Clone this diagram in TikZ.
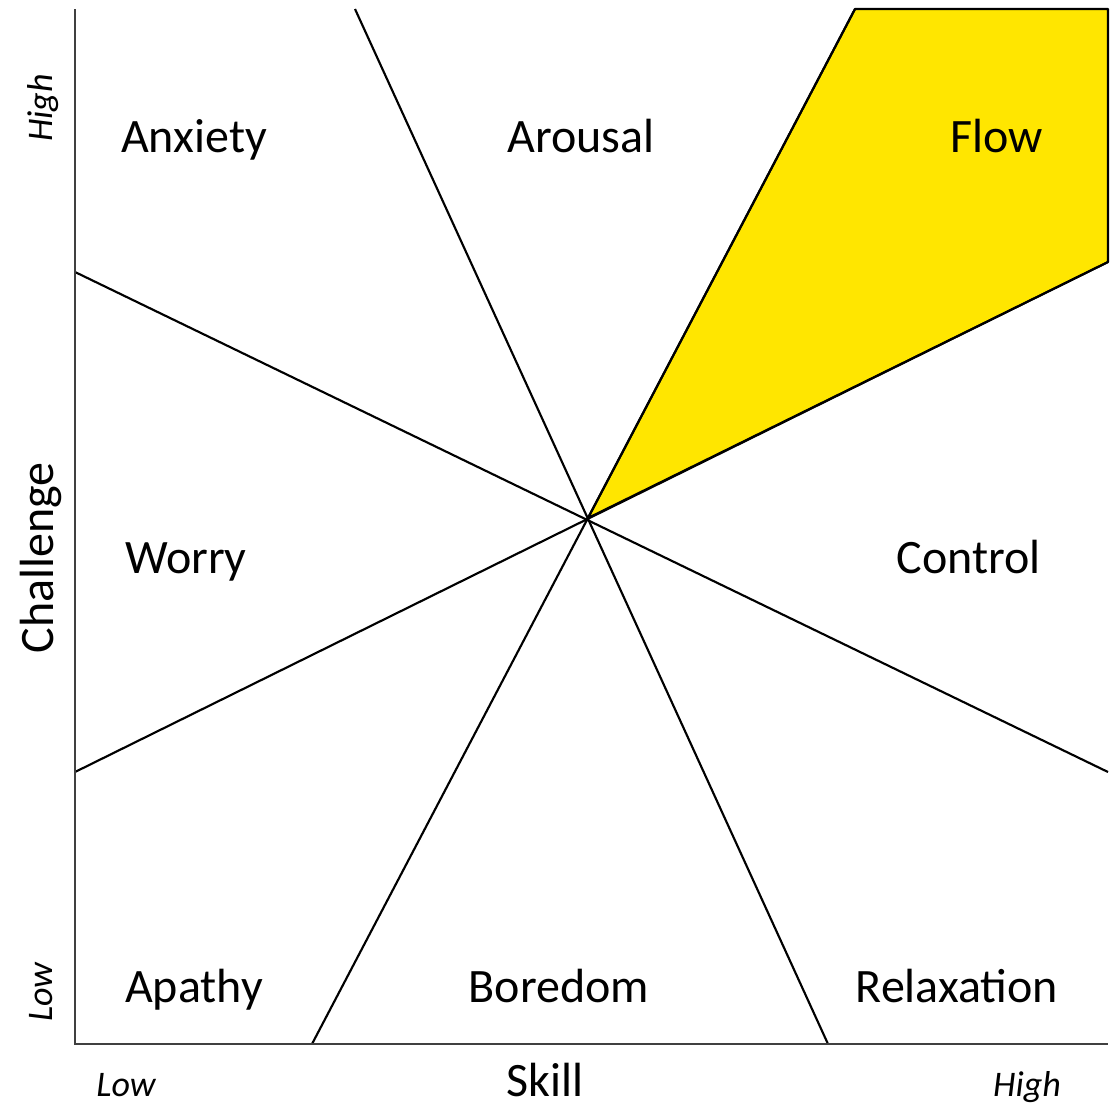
\documentclass[tikz,border=0pt]{standalone}
\usepackage{fontspec}
\setmainfont{Carlito}
\definecolor{flowyellow}{RGB}{255,230,0}

\begin{document}
\begin{tikzpicture}[x=0.75pt,y=-0.75pt,
    region/.style={font=\fontsize{36}{43}\selectfont, anchor=base, inner sep=0pt},
    level/.style={font=\fontsize{27}{32}\selectfont\itshape, anchor=base, inner sep=0pt},
    axis/.style={draw=black!75, line width=2.2pt},
    divider/.style={draw=black, line width=1.6pt},
    ]
\useasboundingbox (0,0) rectangle (1114,1104);

% corners of the frame and the centre
\coordinate (origin) at (75,1044);
\coordinate (top)    at (75,9);
\coordinate (right)  at (1108,1044);
\coordinate (c)      at (588,518);

% ends of the dividers
\coordinate (n1) at (355,9);    \coordinate (s1) at (828,1044);
\coordinate (n2) at (855,9);    \coordinate (s2) at (312,1044);
\coordinate (w1) at (75,272);   \coordinate (e1) at (1108,772);
\coordinate (w2) at (75,772);   \coordinate (e2) at (1108,262);
\coordinate (ne) at (1108,9);

% flow channel
\filldraw[fill=flowyellow, divider, line join=round] (n2) -- (ne) -- (e2) -- (c) -- cycle;

\draw[divider] (n1) -- (s1);
\draw[divider] (n2) -- (s2);
\draw[divider] (w1) -- (e1);
\draw[divider] (w2) -- (e2);

\draw[axis] (top) -- (origin) -- (right);

% regions
\node[region] (anxiety)    at (194,152)  {Anxiety};
\node[region] (arousal)    at (581,152)  {Arousal};
\node[region] (flow)       at (997,152)  {Flow};
\node[region] (worry)      at (186,573)  {Worry};
\node[region] (control)    at (969,573)  {Control};
\node[region] (apathy)     at (194,1002) {Apathy};
\node[region] (boredom)    at (559,1002) {Boredom};
\node[region] (relaxation) at (957,1002) {Relaxation};

% axes labels
\node[region, rotate=90] (challenge) at (53,558)  {Challenge};
\node[region]            (skill)     at (545,1096) {Skill};
\node[level, rotate=90]  (chigh)     at (52,108)   {High};
\node[level, rotate=90]  (clow)      at (52,992)   {Low};
\node[level]             (slow)      at (126,1096) {Low};
\node[level]             (shigh)     at (1027,1096) {High};
\end{tikzpicture}
\end{document}
